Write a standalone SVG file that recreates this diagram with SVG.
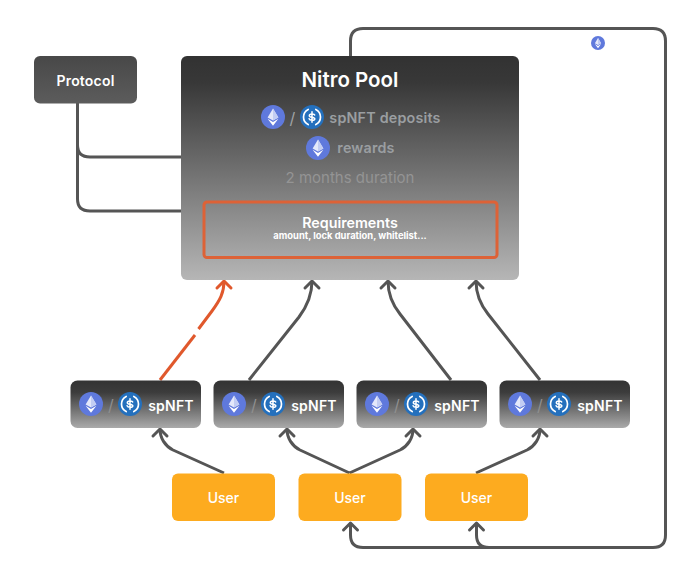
<svg xmlns="http://www.w3.org/2000/svg" width="700" height="577" viewBox="0 0 700 577">
<style>
text{font-family:Inter,"Noto Sans","Liberation Sans",sans-serif;text-anchor:middle;dominant-baseline:central}
.conn{fill:none;stroke:#555;stroke-width:3;stroke-linejoin:round}
.arrow{marker-end:url(#head)}
.hot{stroke:#e0582c}
.hotarrow{marker-end:url(#headhot)}
.w{fill:#fff}
.t14{font-size:14px;font-weight:600;letter-spacing:.2px}
.t145{font-size:14.300px;font-weight:600;letter-spacing:.2px}
.spnft{fill:url(#gradSp)}
.user{fill:#fdab1f}
.ulabel{font-size:14px;font-weight:500;fill:#fff}
.slash{font-size:16px;font-weight:400}
</style>
<defs>
<linearGradient id="gradPool" x1="0" y1="0" x2="0" y2="1"><stop offset="0" stop-color="#323232"/><stop offset="0.12" stop-color="#383838"/><stop offset="1" stop-color="#b6b6b6"/></linearGradient>
<linearGradient id="gradSp" x1="0" y1="0" x2="0" y2="1"><stop offset="0" stop-color="#333"/><stop offset="0.25" stop-color="#3c3c3c"/><stop offset="1" stop-color="#aaa"/></linearGradient>
<linearGradient id="gradProto" x1="0" y1="0" x2="0" y2="1"><stop offset="0" stop-color="#484848"/><stop offset="1" stop-color="#5c5c5c"/></linearGradient>
<marker id="head" markerUnits="userSpaceOnUse" markerWidth="20" markerHeight="20" refX="10" refY="10" orient="auto" viewBox="0 0 20 20"><path d="M3,3 L10,10 L3,17" fill="none" stroke="#555" stroke-width="3" stroke-linecap="round" stroke-linejoin="round"/></marker>
<marker id="headhot" markerUnits="userSpaceOnUse" markerWidth="20" markerHeight="20" refX="10" refY="10" orient="auto" viewBox="0 0 20 20"><path d="M3,3 L10,10 L3,17" fill="none" stroke="#e0582c" stroke-width="3" stroke-linecap="round" stroke-linejoin="round"/></marker>
<symbol id="eth" viewBox="-12 -12 24 24" overflow="visible">
<circle r="12" fill="#5f79dc"/>
<path d="M0,-8.5 L5.4,0.4 L0,3.6 L-5.4,0.4Z" fill="#e4e8fa"/>
<path d="M0,-8.5 L5.4,0.4 L0,3.6Z" fill="#c3cdf3"/>
<path d="M0,8.8 L5.4,1.8 L0,5 L-5.4,1.8Z" fill="#fff"/>
</symbol>
<symbol id="usdc" viewBox="-12 -12 24 24" overflow="visible">
<circle r="12" fill="#2470bd"/>
<path d="M-3.8,-7.6 A8.5,8.5 0 0 0 -3.8,7.6 M3.8,-7.6 A8.5,8.5 0 0 1 3.8,7.6" fill="none" stroke="#fff" stroke-width="1.7" stroke-linecap="round"/>
<path d="M2.7,-2 C2.3,-3.4 -2.7,-3.6 -2.7,-1.2 C-2.7,1 2.8,-0.4 2.8,2 C2.8,3.8 -2.3,3.6 -2.9,1.8 M0,-5.2 V5.2" fill="none" stroke="#fff" stroke-width="1.5" stroke-linecap="round"/>
</symbol>
</defs>
<rect width="700" height="577" fill="#fff"/>

<g id="connectors">
<path class="conn arrow" d="M350.5,57 V41 Q350.5,28.5 363,28.5 H653 Q665.5,28.5 665.5,41 V535 Q665.5,547.500 653,547.500 H363 Q350.5,547.500 350.5,535 V523"/>
<path class="conn arrow" d="M489,547.500 Q476.5,547.500 476.5,535 V523"/>
<path class="conn" d="M77.5,103 V145 Q77.5,157 90,157 H182"/>
<path class="conn" d="M77.5,145 V199 Q77.5,211 90,211 H182"/>
<path class="conn hot" d="M160,380 L195,335"/>
<path class="conn hot hotarrow" d="M198.5,329 L212,311 C220,300 224,293 224,281"/>
<path class="conn arrow" d="M249,380 L299,317 C308,305 312,294 312,281"/>
<path class="conn arrow" d="M451,380 L400,314 C392,304 388,294 388,281"/>
<path class="conn arrow" d="M540,380 L488,314 C480,304 476,294 476,281"/>
<path class="conn arrow" d="M224,473 L173,450 C165,446 160,438 160,429"/>
<path class="conn arrow" d="M349.5,473 L300,450 C292,446 287,438 287,429"/>
<path class="conn arrow" d="M349.5,473 L400,450 C408,446 413,438 413,429"/>
<path class="conn arrow" d="M476,473 L527,450 C535,446 540,438 540,429"/>
</g>

<g id="protocol">
<rect x="34" y="56" width="103" height="47.500" rx="6" fill="url(#gradProto)"/>
<text class="w t14" x="85.500" y="80">Protocol</text>
</g>

<g id="nitro-pool">
<rect x="181" y="56" width="338" height="224" rx="6" fill="url(#gradPool)"/>
<text class="w" x="350" y="79" font-size="20.500" font-weight="600">Nitro Pool</text>
<use href="#eth" x="261" y="105" width="24" height="24"/>
<text class="slash" x="292.500" y="118" fill="#a0a3a5">/</text>
<use href="#usdc" x="300" y="105" width="24" height="24"/>
<text class="t145" x="385" y="117" fill="#9a9ea1">spNFT deposits</text>
<use href="#eth" x="306" y="136" width="24" height="24"/>
<text class="t145" x="366" y="147" fill="#9a9ea1">rewards</text>
<text x="350" y="177" font-size="15" font-weight="400" fill="#949494">2 months duration</text>
</g>

<g id="requirements">
<rect x="204" y="202" width="293" height="55.500" rx="3" fill="none" stroke="#dd6237" stroke-width="3"/>
<text class="w" x="350" y="222" font-size="14.300" font-weight="600">Requirements</text>
<text class="w" x="350" y="235" font-size="9.400" font-weight="700">amount, lock duration, whitelist...</text>
</g>

<g id="spnft-1">
<rect class="spnft" x="70.500" y="380.500" width="130.500" height="47.500" rx="7"/>
<use href="#eth" x="79" y="392" width="24" height="24"/>
<text class="slash" x="111" y="405" fill="#8f8f8f">/</text>
<use href="#usdc" x="118" y="392" width="24" height="24"/>
<text class="w t14" x="171" y="405">spNFT</text>
</g>
<g id="spnft-2">
<rect class="spnft" x="213.500" y="380.500" width="130.500" height="47.500" rx="7"/>
<use href="#eth" x="222" y="392" width="24" height="24"/>
<text class="slash" x="254" y="405" fill="#8f8f8f">/</text>
<use href="#usdc" x="261" y="392" width="24" height="24"/>
<text class="w t14" x="314" y="405">spNFT</text>
</g>
<g id="spnft-3">
<rect class="spnft" x="356.500" y="380.500" width="130.500" height="47.500" rx="7"/>
<use href="#eth" x="365" y="392" width="24" height="24"/>
<text class="slash" x="397" y="405" fill="#8f8f8f">/</text>
<use href="#usdc" x="404" y="392" width="24" height="24"/>
<text class="w t14" x="457" y="405">spNFT</text>
</g>
<g id="spnft-4">
<rect class="spnft" x="499.500" y="380.500" width="130.500" height="47.500" rx="7"/>
<use href="#eth" x="508" y="392" width="24" height="24"/>
<text class="slash" x="540" y="405" fill="#8f8f8f">/</text>
<use href="#usdc" x="547" y="392" width="24" height="24"/>
<text class="w t14" x="600" y="405">spNFT</text>
</g>

<g id="user-1"><rect class="user" x="172" y="473.500" width="103" height="47.500" rx="6"/><text class="ulabel" x="223.500" y="497">User</text></g>
<g id="user-2"><rect class="user" x="298.500" y="473.500" width="103" height="47.500" rx="6"/><text class="ulabel" x="350" y="497">User</text></g>
<g id="user-3"><rect class="user" x="425" y="473.500" width="103" height="47.500" rx="6"/><text class="ulabel" x="476.500" y="497">User</text></g>

<g id="top-token"><use href="#eth" x="591" y="36" width="14" height="14"/></g>
</svg>
